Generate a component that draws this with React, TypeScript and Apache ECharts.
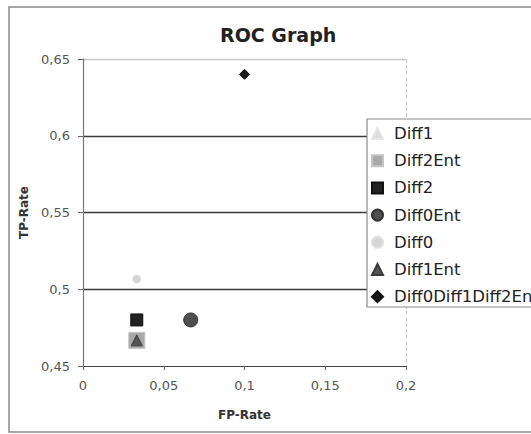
import React, { useEffect, useRef } from "react";
import * as echarts from "echarts";

const seriesNames = ["Diff1", "Diff2Ent", "Diff2", "Diff0Ent", "Diff0", "Diff1Ent", "Diff0Diff1Diff2Ent"];
const fpRate = [0.0333, 0.0333, 0.0333, 0.0667, 0.0333, 0.0333, 0.1];
const tpRate = [0.4667, 0.4667, 0.48, 0.48, 0.5067, 0.4667, 0.64];
const symbols = ["triangle", "rect", "rect", "circle", "circle", "triangle", "diamond"];
const symbolSizes = [11, 16, 12, 14, 8, 11, 10];
const colors = ["#dcdcdc", "#a8a8a8", "#222222", "#4f4f4f", "#d4d4d4", "#555555", "#1a1a1a"];
const borderColors = ["#e6e6e6", "#c4c4c4", "#111111", "#333333", "#e0e0e0", "#3a3a3a", "#111111"];
const xTicks = [0, 0.2, 0.05];
const yTicks = [0.45, 0.65, 0.05];

const fmt = (v: number) => String(Math.round(v * 100) / 100).replace(".", ",");

export default function App() {
  const ref = useRef<HTMLDivElement>(null);
  useEffect(() => {
    if (!ref.current) return;
    const chart = echarts.init(ref.current, undefined, { renderer: "svg" });
    const font = "DejaVu Sans";
    chart.setOption({
      animation: false,
      backgroundColor: "#ffffff",
      title: {
        text: "ROC Graph",
        left: 215,
        top: 20,
        textStyle: { fontFamily: font, fontSize: 19, fontWeight: "bold", color: "#222" },
      },
      graphic: [
        {
          type: "rect",
          shape: { x: 9, y: 7, width: 560, height: 425 },
          style: { fill: "none", stroke: "#8a8a8a", lineWidth: 1.5 },
          silent: true,
          z: -10,
        },
        {
          type: "rect",
          shape: { x: 367, y: 119, width: 250, height: 188 },
          style: { fill: "#ffffff", stroke: "#8a8a8a", lineWidth: 1.2 },
          silent: true,
          z: 5,
        },
      ],
      grid: { left: 83, top: 59, right: 125, bottom: 68 },
      legend: {
        orient: "vertical",
        left: 367,
        top: 119,
        padding: [6, 0, 6, 4],
        itemGap: 10.2,
        itemWidth: 11,
        itemHeight: 11,
        borderWidth: 0,
        textStyle: { fontFamily: font, fontSize: 16.5, color: "#222", padding: [0, 0, 0, 6] },
        data: seriesNames,
        z: 10,
      },
      xAxis: {
        type: "value",
        min: xTicks[0],
        max: xTicks[1],
        interval: xTicks[2],
        name: "FP-Rate",
        nameLocation: "middle",
        nameGap: 43,
        nameTextStyle: { fontFamily: font, fontSize: 12, fontWeight: "bold", color: "#333" },
        axisLine: { show: true, onZero: false, lineStyle: { color: "#444", width: 1.2 } },
        axisTick: { show: true, length: 4, lineStyle: { color: "#666" } },
        axisLabel: { formatter: fmt, fontFamily: font, fontSize: 13, color: "#555", margin: 13 },
        splitLine: {
          show: true,
          lineStyle: {
            color: ["rgba(0,0,0,0)", "rgba(0,0,0,0)", "rgba(0,0,0,0)", "rgba(0,0,0,0)", "#c8c8c8"],
            type: "dashed",
            width: 1,
          },
        },
      },
      yAxis: {
        type: "value",
        min: yTicks[0],
        max: yTicks[1],
        interval: yTicks[2],
        name: "TP-Rate",
        nameLocation: "middle",
        nameGap: 52,
        nameTextStyle: { fontFamily: font, fontSize: 12, fontWeight: "bold", color: "#333" },
        axisLine: { show: true, onZero: false, lineStyle: { color: "#777", width: 1.2 } },
        axisTick: { show: true, length: 5, lineStyle: { color: "#666" } },
        axisLabel: { formatter: fmt, fontFamily: font, fontSize: 13, color: "#555", margin: 13 },
        splitLine: {
          show: true,
          lineStyle: {
            color: ["rgba(0,0,0,0)", "#3a3a3a", "#3a3a3a", "#3a3a3a", "#c8c8c8"],
            width: 1.3,
          },
        },
      },
      series: seriesNames.map((name, i) => ({
        name,
        type: "scatter",
        data: [[fpRate[i], tpRate[i]]],
        symbol: symbols[i],
        symbolSize: symbolSizes[i],
        itemStyle: { color: colors[i], borderColor: borderColors[i], borderWidth: 1, opacity: 1 },
        z: 2 + i,
      })),
    });
    return () => chart.dispose();
  }, []);
  return (
    <div
      ref={ref}
      style={{ position: "fixed", left: 0, top: 0, width: 531, height: 434, overflow: "hidden" }}
    />
  );
}
